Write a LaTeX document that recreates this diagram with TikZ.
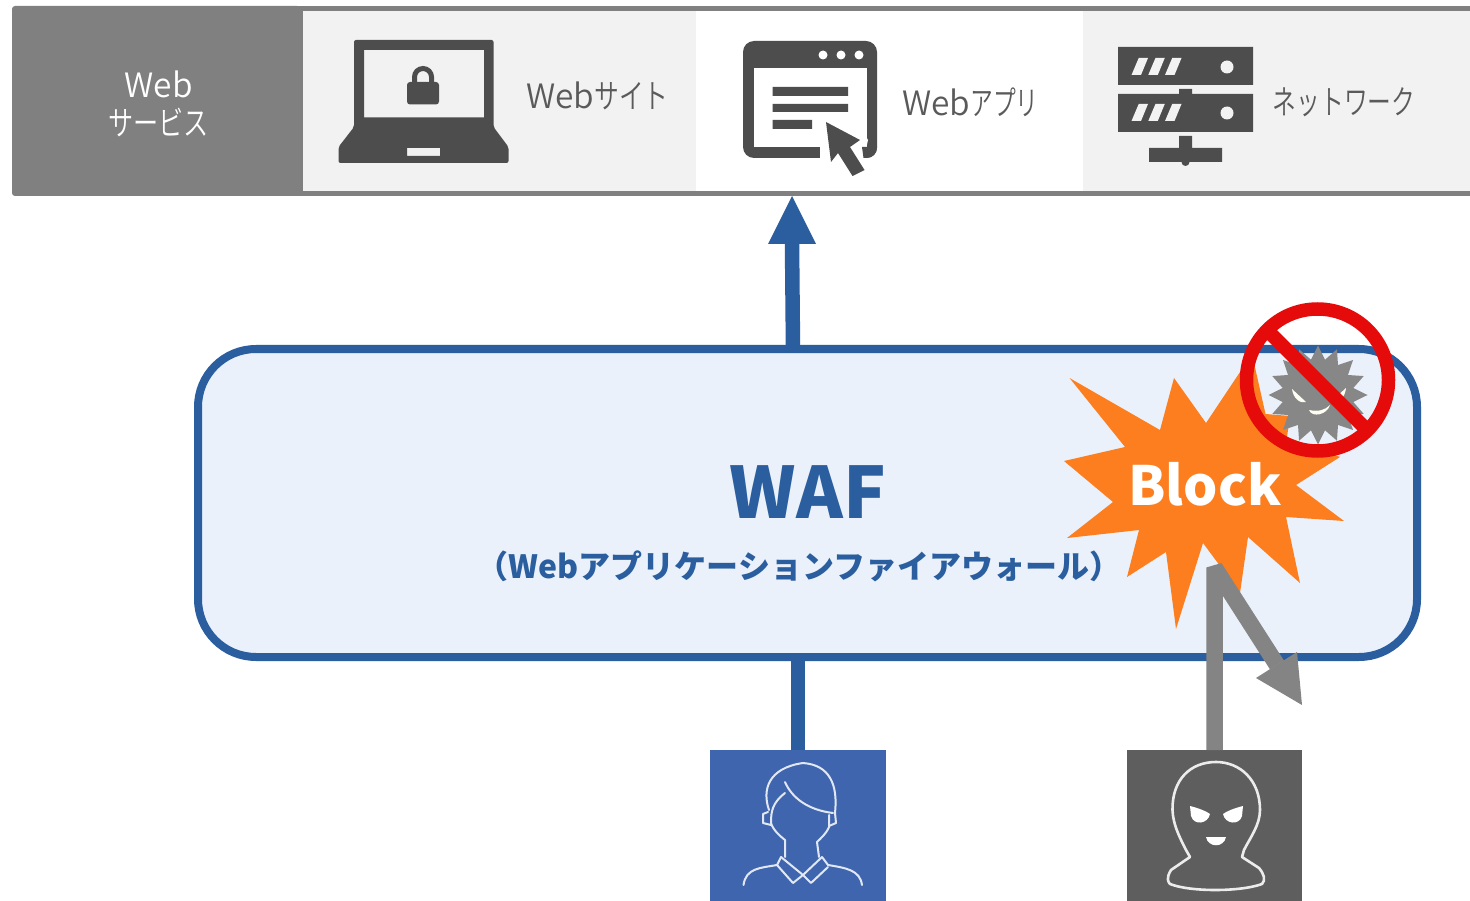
\documentclass[tikz,border=0pt]{standalone}
\usepackage{fontspec}
\usepackage{graphicx}
\setmainfont{Noto Sans CJK JP}
\newfontfamily\lightf{Noto Sans CJK JP DemiLight}
\usetikzlibrary{arrows.meta}
\newcommand{\kt}[2]{\scalebox{#1}[1]{#2}}
\definecolor{barg}{HTML}{808080}
\definecolor{cellg}{HTML}{F2F2F2}
\definecolor{icong}{HTML}{4D4D4D}
\definecolor{labelg}{HTML}{5A5A5A}
\definecolor{wafblue}{HTML}{2A5E9F}
\definecolor{waffill}{HTML}{EAF1FB}
\definecolor{userblue}{HTML}{3F65AE}
\definecolor{attackg}{HTML}{5E5E5E}
\definecolor{arrowg}{HTML}{848484}
\definecolor{starorange}{HTML}{FD7E1E}
\definecolor{ringred}{HTML}{E60B0B}
\definecolor{virusg}{HTML}{878787}
\tikzset{
  x=1pt,y=-1pt,
  cell/.style={anchor=north west,inner sep=0,outer sep=0,minimum height=179.5},
  svc/.style={inner sep=0,outer sep=0,text=labelg,font=\lightf\fontsize{33.5}{38}\selectfont},
  iconline/.style={draw=white!85!userblue,line width=2,line join=round,line cap=round},
  hoodline/.style={draw=white!88!attackg,line width=2.6,line join=round,line cap=round},
  blueline/.style={draw=wafblue,line width=14.5},
}
\begin{document}
\begin{tikzpicture}
\useasboundingbox (0,0) rectangle (1470,901);
\fill[white] (0,0) rectangle (1470,901);
% top bar
\fill[barg,rounded corners=3] (12,6) rectangle (300,196);
\fill[barg] (100,6) rectangle (1470,196);
\node[cell,fill=cellg,minimum width=393] (sitecell) at (303,11.5) {};
\node[cell,fill=white,minimum width=387] (appcell) at (696,11.5) {};
\node[cell,fill=cellg,minimum width=387] (netcell) at (1083,11.5) {};
\node[inner sep=0,text=white,align=center,font=\lightf\fontsize{33.5}{37.5}\selectfont] (svc) at (158.5,104) {Web\\\kt{0.75}{サービス}};
\node[svc] (l1) at (597.5,96) {Web\kt{0.74}{サイト}};
\node[svc] (l2) at (970.5,102) {Web\kt{0.68}{アプリ}};
\node[svc] (l3) at (1344,102) {\kt{0.71}{ネットワーク}};
% laptop
\fill[icong,even odd rule,rounded corners=2]
  (354,44) -- (354,127) -- (338.5,147) -- (338.5,163) -- (508.5,163) -- (508.5,147) -- (493.5,127) -- (493.5,40) -- (354,40) -- cycle
  [sharp corners] (364,50) rectangle (484,117.5)
  (407,148) rectangle (440,156);
\fill[icong,rounded corners=3] (407,82) rectangle (439,104.5);
\draw[icong,line width=5] (414.5,84) -- (414.5,77) arc[start angle=180,end angle=360,x radius=8.5,y radius=8.5] -- (431.5,84);
% app window
\fill[icong,rounded corners=11] (743,41) rectangle (877,158);
\fill[white] (754,68) rectangle (867,147);
\fill[icong] (772.5,87) rectangle (848,96) (772.5,104) rectangle (848,112) (772.5,120) rectangle (812,129);
\foreach \dx in {823,841,859}{\fill[white] (\dx,55) circle[radius=4.5];}
\fill[white] (820,147) -- (820,165) -- (850,180) -- (868,172) -- (864,158) -- (868,140) -- (860,125) -- (820,115) -- cycle;
\fill[icong] (867,147) -- (877,147) -- (877,148) arc[start angle=0,end angle=90,radius=10] -- (863.5,158) -- (862,147) -- cycle;
\fill[icong] (826,122) -- (860,140) -- (850,147) -- (864.5,170) -- (852.5,176) -- (838,153) -- (831,162) -- cycle;
% server
\fill[icong] (1118,47) rectangle (1253,85) (1118,94) rectangle (1253,132)
  (1179,89) rectangle (1192,94) (1179,136) rectangle (1192,148) (1149,148) rectangle (1222,162);
\fill[icong] (1185.5,162) circle[radius=4];
\foreach \oy in {0,46}{
  \foreach \ox in {0,16.75,33.5}{
    \fill[cellg] (1138.7+\ox,\oy+58) -- (1148+\ox,\oy+58) -- (1141+\ox,\oy+75) -- (1131.5+\ox,\oy+75) -- cycle;
  }
  \fill[cellg] (1227,\oy+67) circle[radius=6.5];
}
% WAF box
\node[draw=wafblue,fill=waffill,line width=8,rounded corners=58,inner sep=0,outer sep=0,minimum width=1219,minimum height=308] (waf) at (807.5,503) {};
\node[inner sep=0,text=wafblue,font=\fontsize{71}{80}\bfseries\selectfont] (waft) at (808,492.5) {WAF};
\node[inner sep=0,text=wafblue,font=\fontsize{32}{38}\bfseries\selectfont] (wafs) at (799,566) {（Webアプリケーションファイアウォール）};
% people
\node[fill=userblue,inner sep=0,outer sep=0,minimum width=176,minimum height=151] (user) at (798,825.5) {};
\node[fill=attackg,inner sep=0,outer sep=0,minimum width=175,minimum height=151] (attacker) at (1214.5,825.5) {};
% blue connectors
\coordinate (wafout) at (793,349);
\coordinate (apptip) at (792,196);
\coordinate (appbase) at (792,243);
\draw[blueline] (wafout) -- (appbase);
\fill[wafblue] (apptip) -- (816,244) -- (768,244) -- cycle;
\draw[blueline] (user.north) -- (user.north |- waf.south);
% person icon
\draw[iconline] (769,810) .. controls (762,790) and (768,768) .. (803,763) .. controls (830,765) and (838,785) .. (835,813);
\draw[iconline] (785,782) .. controls (792,798) and (808,810) .. (833,813);
\draw[iconline] (785,793) .. controls (772,803) and (771,812) .. (771,823) .. controls (773,830) and (780,836) .. (785,840) -- (785,857);
\draw[iconline] (829,815) -- (829,827) .. controls (826,834) and (821,838) .. (817,842) -- (819,857);
\draw[iconline] (768,812) -- (763,814) -- (763,823) -- (771,825);
\draw[iconline] (835,813) -- (836,823) -- (829,826);
\draw[iconline] (781,857) -- (803,875) -- (822,857);
\draw[iconline] (777,865) -- (793,883) -- (803,875) -- (811,883) -- (828,867);
\draw[iconline] (781,857) -- (777,865) .. controls (760,868) and (746,868) .. (743.5,885);
\draw[iconline] (822,857) -- (828,865) .. controls (846,868) and (860,870) .. (862,885);
% attacker icon
\draw[hoodline] (1216,762) .. controls (1190,762) and (1172,780) .. (1172.5,810) .. controls (1173,825) and (1180,838) .. (1186,850) -- (1190,857) -- (1171,870) .. controls (1166,878) and (1168,882) .. (1170,884) .. controls (1190,892) and (1240,892) .. (1262,884) .. controls (1266,880) and (1264,874) .. (1259,868) -- (1242,857) -- (1244,850) .. controls (1250,838) and (1260,825) .. (1260,810) .. controls (1260,780) and (1240,762) .. (1216,762) -- cycle;
\fill[white] (1190,806) .. controls (1198,808) and (1206,811) .. (1210,814) .. controls (1208,824) and (1194,826) .. (1191,816) -- cycle;
\fill[white] (1243,806) .. controls (1235,808) and (1227,811) .. (1223,814) .. controls (1225,824) and (1239,826) .. (1242,816) -- cycle;
\fill[white] (1206,837) -- (1226,837) .. controls (1224,848) and (1208,848) .. (1206,837) -- cycle;
% burst
\fill[starorange] (1069.5,378) -- (1160,430) -- (1174,378) -- (1206,423) -- (1252,354) -- (1265.5,414) -- (1290,416) -- (1287,437) -- (1340,457) -- (1296,485) -- (1344,521) -- (1286,517) -- (1300,583) -- (1248,537) -- (1240,593) -- (1203,543) -- (1176,629) -- (1166,552) -- (1127,577) -- (1139,530) -- (1067,538) -- (1113,502) -- (1064,461) -- (1125,447) -- cycle;
\node[inner sep=0,text=white,font=\fontsize{54}{64}\bfseries\selectfont] (block) at (1205,484) {Block};
% virus
\fill[virusg] plot[samples at={0,...,31},variable=\k] ({1318+(mod(\k,2)==0?49.5:36)*cos(\k*11.25)},{395+(mod(\k,2)==0?49.5:36)*sin(\k*11.25)}) -- cycle;
\fill[white!95!yellow] (1292,389) .. controls (1293,398) and (1300,404) .. (1306,402) -- cycle;
\fill[white!95!yellow] (1346,388) .. controls (1345,398) and (1339,402) .. (1333,400) -- cycle;
\fill[white!95!yellow] (1309,410) .. controls (1319,412) and (1325,410) .. (1330,405) .. controls (1327,415) and (1312,418) .. (1309,410) -- cycle;
% gray connector
\coordinate (bend) at (1214.5,567.5);
\coordinate (headbase) at (1277,665);
\draw[draw=arrowg,line width=16.5,line join=bevel] (attacker.north) -- (bend) -- (headbase);
\coordinate (tipg) at (1302,705);
\fill[arrowg] (tipg) -- (1297,652) -- (1256,678) -- cycle;
% ring
\begin{scope}
\clip (1230,303) rectangle (1410,470);
\draw[ringred,line width=13.5] (1317.5,380) circle[radius=71];
\draw[ringred,line width=14] (1266,329) -- (1367,430);
\end{scope}
\end{tikzpicture}
\end{document}
